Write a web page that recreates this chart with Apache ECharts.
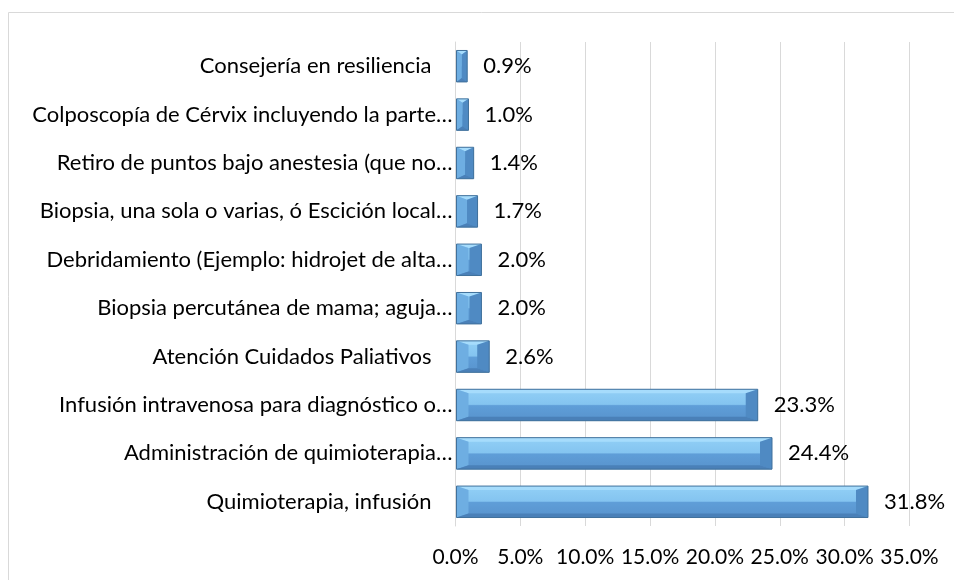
<!DOCTYPE html>
<html>
<head>
<meta charset="utf-8">
<script src="https://cdn.jsdelivr.net/npm/echarts@6/dist/echarts.min.js"></script>
<style>
  html, body { margin: 0; padding: 0; background: #fff; }
  #container { width: 954px; height: 580px; }
</style>
</head>
<body>
<div id="container"></div>
<script>
// categories top to bottom, as in the chart
var categories = [
    'Consejería en resiliencia',
    'Colposcopía de Cérvix incluyendo la parte…',
    'Retiro de puntos bajo anestesia (que no…',
    'Biopsia, una sola o varias, ó Escición local…',
    'Debridamiento (Ejemplo: hidrojet de alta…',
    'Biopsia percutánea de mama; aguja…',
    'Atención Cuidados Paliativos',
    'Infusión intravenosa para diagnóstico o…',
    'Administración de quimioterapia…',
    'Quimioterapia, infusión'
];
var values = [0.9, 1.0, 1.4, 1.7, 2.0, 2.0, 2.6, 23.3, 24.4, 31.8];
var xTicks = [0, 5, 10, 15, 20, 25, 30, 35];

var FONT = 'Lato';
var FS = 22;

var dom = document.getElementById('container');
var myChart = echarts.init(dom);

var barData = values.map(function (v, i) { return [i, v]; });

// excel-like bevelled bar
var renderBar = function (params, api) {
    var c = api.value(0), v = api.value(1);
    var base = api.coord([0, c]);
    var end = api.coord([v, c]);
    var h = api.size([0, 1])[1] * 0.65;
    var x0 = base[0] + 1, x1 = end[0], ym = base[1];
    var y0 = ym - h / 2, y1 = ym + h / 2;
    var dx = Math.min(12, (x1 - x0) / 2);
    var dy = Math.min(dx, 4);
    var poly = function (pts, fill) {
        return { type: 'polygon', shape: { points: pts }, style: { fill: fill } };
    };
    return {
        type: 'group',
        children: [
            {
                type: 'rect',
                shape: { x: x0, y: y0, width: x1 - x0, height: h },
                style: {
                    fill: new echarts.graphic.LinearGradient(0, 0, 0, 1, [
                        { offset: 0, color: '#92d0f6' },
                        { offset: 0.48, color: '#84c4f0' },
                        { offset: 0.52, color: '#5f9ed8' },
                        { offset: 1, color: '#5893cd' }
                    ])
                }
            },
            poly([[x0, y0], [x1, y0], [x1 - dx, y0 + dy], [x0 + dx, y0 + dy]], '#a6dcfc'),
            poly([[x0, y0], [x0 + dx, y0 + dy], [x0 + dx, y1 - dy], [x0, y1]], '#6eaee2'),
            poly([[x1, y0], [x1 - dx, y0 + dy], [x1 - dx, y1 - dy], [x1, y1]], '#4f8ac3'),
            poly([[x0, y1], [x1, y1], [x1 - dx, y1 - dy], [x0 + dx, y1 - dy]], '#4a80b8'),
            {
                type: 'rect',
                shape: { x: x0, y: y0, width: x1 - x0, height: h },
                style: { fill: null, stroke: '#41719c', lineWidth: 1 }
            },
            {
                type: 'text',
                style: {
                    text: v.toFixed(1) + '%',
                    x: x1 + 16, y: ym,
                    verticalAlign: 'middle',
                    fill: '#000',
                    fontSize: FS, fontFamily: FONT
                }
            }
        ]
    };
};

var option = {
    animation: false,
    graphic: [{
        type: 'rect',
        shape: { x: 8.5, y: 12.5, width: 1000, height: 700 },
        style: { fill: null, stroke: '#d9d9d9', lineWidth: 1 },
        silent: true
    }],
    grid: { left: 455.5, right: 44.5, top: 42, bottom: 54 },
    xAxis: {
        type: 'value',
        min: xTicks[0],
        max: xTicks[xTicks.length - 1],
        interval: 5,
        axisLine: { show: false },
        axisTick: { show: false },
        splitLine: { lineStyle: { color: '#d9d9d9', width: 1 } },
        axisLabel: {
            margin: 21,
            color: '#000',
            fontSize: 21,
            fontFamily: FONT,
            formatter: function (v) { return v.toFixed(1) + '%'; }
        }
    },
    yAxis: {
        type: 'category',
        inverse: true,
        data: categories,
        axisLine: { show: true, lineStyle: { color: '#d9d9d9' } },
        axisTick: { show: false },
        axisLabel: {
            margin: 3,
            color: '#000',
            fontSize: FS,
            fontFamily: FONT,
            formatter: function (s) {
                return s.slice(-1) === '…' ? '{a|' + s + '}' : '{b|' + s + '}';
            },
            rich: {
                a: { fontSize: FS, fontFamily: FONT, color: '#000' },
                b: { fontSize: FS, fontFamily: FONT, color: '#000', padding: [0, 21, 0, 0] }
            }
        }
    },
    series: [{
        type: 'custom',
        renderItem: renderBar,
        encode: { y: 0, x: 1 },
        data: barData
    }]
};
myChart.setOption(option, true);
</script>
</body>
</html>
